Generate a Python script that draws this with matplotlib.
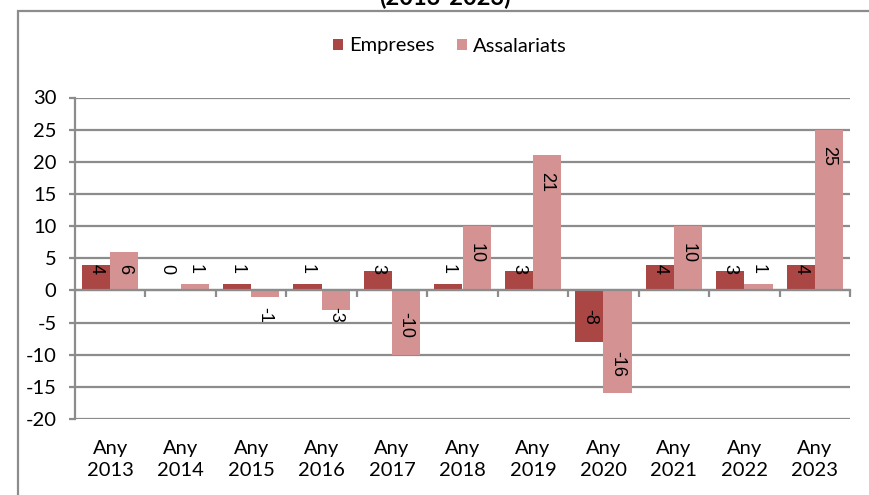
import matplotlib
matplotlib.use("Agg")
import matplotlib.pyplot as plt
import matplotlib.patches as mpatches
import numpy as np

years = ["2013", "2014", "2015", "2016", "2017", "2018", "2019", "2020", "2021", "2022", "2023"]
categories = ["Any\n" + y for y in years]
empreses = [4, 0, 1, 1, 3, 1, 3, -8, 4, 3, 4]
assalariats = [6, 1, -1, -3, -10, 10, 21, -16, 10, 1, 25]
series_names = ["Empreses", "Assalariats"]
yticks = [-20, -15, -10, -5, 0, 5, 10, 15, 20, 25, 30]
title = "(2013-2023)"

c_emp = "#AA4644"
c_ass = "#D49292"
grid_c = "#8c8c8c"
tick_font = "Lato"
label_font = "Liberation Sans"

W, H, DPI = 869, 495, 100
fig = plt.figure(figsize=(W / DPI, H / DPI), dpi=DPI)
ax = fig.add_axes([75 / W, 1 - 419 / H, (850 - 75) / W, (419 - 97.5) / H])

x = np.arange(len(categories))
bw = 0.4
b1 = ax.bar(x - bw / 2, empreses, bw, color=c_emp, label=series_names[0], zorder=3)
b2 = ax.bar(x + bw / 2, assalariats, bw, color=c_ass, label=series_names[1], zorder=3)

ax.set_xlim(-0.5, len(categories) - 0.5)
ax.set_ylim(min(yticks), max(yticks))
ax.set_yticks(yticks)
ax.set_yticklabels([str(v) for v in yticks], fontfamily=tick_font, fontsize=14.5)
ax.yaxis.grid(True, color=grid_c, linewidth=1.6, zorder=0)
ax.set_axisbelow(True)
for s in ["top", "right"]:
    ax.spines[s].set_visible(False)
ax.spines["left"].set_color(grid_c)
ax.spines["left"].set_linewidth(1.6)
ax.spines["bottom"].set_position(("data", 0))
ax.spines["bottom"].set_color(grid_c)
ax.spines["bottom"].set_linewidth(1.6)
ax.spines["bottom"].set_zorder(4)
ax.tick_params(axis="y", length=4.3, width=1.6, color=grid_c, pad=9)
ax.set_xticks(x + 0.5, minor=False)
ax.set_xticklabels([])
ax.tick_params(axis="x", which="major", length=5, width=1.6, color=grid_c, direction="out")

sec = ax.secondary_xaxis(0)
sec.set_xticks(x)
sec.set_xticklabels(categories, fontfamily=tick_font, fontsize=14.5, linespacing=1.4)
sec.tick_params(length=0, pad=15)
sec.spines["bottom"].set_visible(False)

# data labels
fig.canvas.draw()
renderer = fig.canvas.get_renderer()
pad_px = 16.5
y0 = ax.transData.transform((0, 0))[1]
for xs, vals in [(x - bw / 2, empreses), (x + bw / 2, assalariats)]:
    for xi, v in zip(xs, vals):
        t = ax.annotate(str(v), xy=(xi, 0), xytext=(0, 0), textcoords="offset points",
                        rotation=270, ha="center", va="center", fontsize=13,
                        fontfamily=label_font, color="black", zorder=5)
        L = t.get_window_extent(renderer).height
        yv = ax.transData.transform((0, v))[1]
        Lb = abs(yv - y0)
        dc = max(Lb - pad_px - L / 2, pad_px + L / 2)
        sign = 1 if v >= 0 else -1
        t.xyann = (0, sign * dc * 72 / DPI)

fig.legend(handles=[b1, b2], labels=series_names, loc="center",
           bbox_to_anchor=(450 / W, 1 - 46 / H), ncol=2, frameon=False,
           prop={"family": tick_font, "size": 14.5}, handlelength=0.5,
           handleheight=0.5, handletextpad=0.3, columnspacing=1.1)

fig.text(445 / W, 1 - 5 / H, title, ha="center", va="baseline",
         fontsize=17, fontweight="bold", fontfamily=tick_font)

border = mpatches.Rectangle((18 / W, -1), 2, 2 - 10.5 / H, transform=fig.transFigure,
                            fill=False, edgecolor=grid_c, linewidth=1.6)
fig.add_artist(border)

fig.savefig("out.png", dpi=DPI)
